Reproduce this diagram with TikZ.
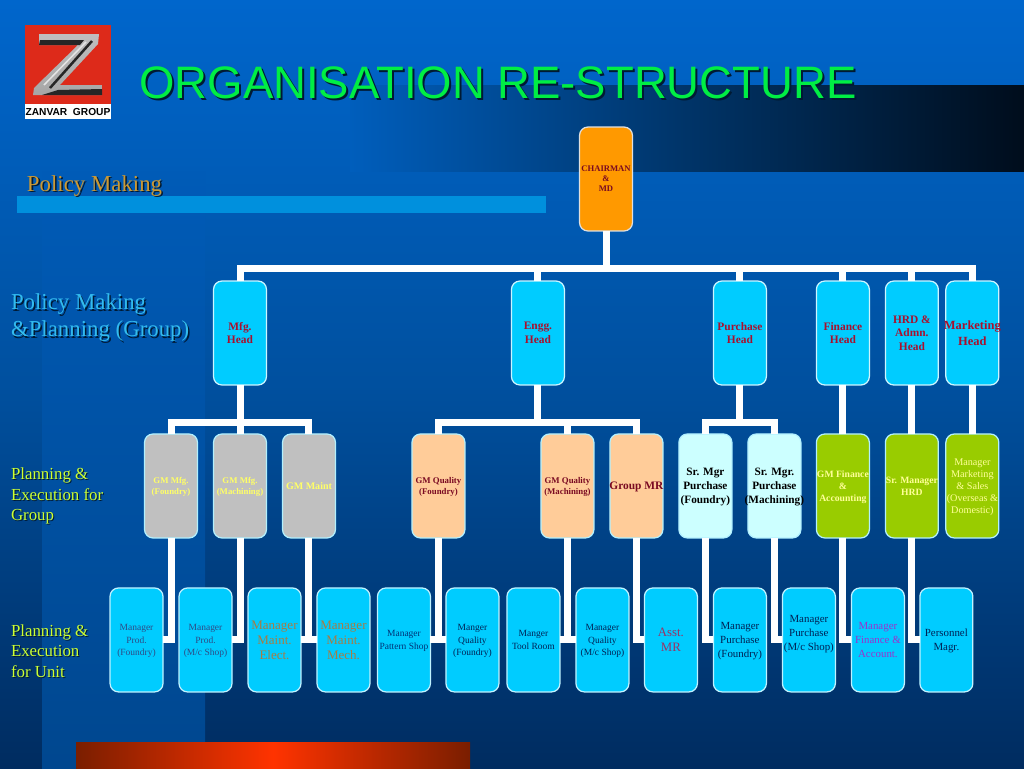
\documentclass[tikz,border=0pt]{standalone}
\usepackage{xcolor}
\usepackage{fontspec}
\setmainfont{Liberation Serif}
\newfontfamily\sansfont{Liberation Sans}
\usetikzlibrary{positioning, calc}
\definecolor{zv-sky}{HTML}{00CCFF}
\definecolor{zv-gray}{HTML}{C0C0C0}
\definecolor{zv-peach}{HTML}{FFCC99}
\definecolor{zv-pale}{HTML}{CCFFFF}
\definecolor{zv-olive}{HTML}{99CC00}
\definecolor{zv-orange}{HTML}{FF9900}
\definecolor{zv-wine}{HTML}{A8102E}
\definecolor{zv-maroon}{HTML}{7A0A22}
\definecolor{zv-lemon}{HTML}{FFFF66}
\definecolor{zv-cream}{HTML}{FFFF99}
\definecolor{zv-slate}{HTML}{2F4A85}
\definecolor{zv-brown}{HTML}{A67C45}
\definecolor{zv-navy}{HTML}{003377}
\definecolor{zv-ink}{HTML}{002255}
\definecolor{zv-plum}{HTML}{9A3366}
\definecolor{zv-violet}{HTML}{9933CC}
\definecolor{zv-title}{HTML}{00EE44}
\definecolor{zv-gold}{HTML}{CC9933}
\definecolor{zv-cyan}{HTML}{33BBEE}
\definecolor{zv-lime}{HTML}{CCFF33}
\definecolor{zv-shadow}{HTML}{001A33}
\definecolor{zv-bgtop}{HTML}{0066CC}
\definecolor{zv-bgmid}{HTML}{00509F}
\definecolor{zv-bgend}{HTML}{002C60}
\definecolor{zv-coltop}{HTML}{005BB7}
\definecolor{zv-colend}{HTML}{00478F}
\definecolor{zv-bandl}{HTML}{005EBC}
\definecolor{zv-bandm}{HTML}{003468}
\definecolor{zv-bandr}{HTML}{000D1C}
\definecolor{zv-bar}{HTML}{0090DD}
\definecolor{zv-rust}{HTML}{7A1E00}
\definecolor{zv-red}{HTML}{FF3300}
\definecolor{zv-logo}{HTML}{DD2A1A}
\definecolor{zv-steel}{HTML}{262626}

\begin{document}
\begin{tikzpicture}[
    x=0.02cm, y=-0.02cm,
    box/.style={draw=white!75!zv-sky, line width=0.025cm, rounded corners=0.17cm, minimum width=1.06cm, minimum height=2.08cm, inner xsep=-0.2cm, inner ysep=0pt, outer sep=0pt, align=center},
    chairbox/.style={box, draw=white!75!gray, fill=zv-orange, text=zv-maroon, text depth=0pt, font=\bfseries\fontsize{4.9}{5.7}\selectfont},
    headbox/.style={box, draw=white!80!zv-sky, fill=zv-sky, text=zv-wine, font=\bfseries\fontsize{6.5}{7.8}\selectfont},
    graybox/.style={box, draw=white!70!zv-sky, fill=zv-gray, text=zv-lemon, text depth=-1pt, font=\bfseries\fontsize{5}{6.2}\selectfont},
    peachbox/.style={box, draw=white!70!zv-sky, fill=zv-peach, text=zv-maroon, text depth=-1pt, font=\bfseries\fontsize{5}{6.2}\selectfont},
    palebox/.style={box, draw=white!70!zv-sky, fill=zv-pale, text=black, text depth=-1.5pt, font=\bfseries\fontsize{6.4}{7.8}\selectfont},
    olivebox/.style={box, draw=white!70!zv-sky, fill=zv-olive, text=zv-cream, text depth=-1pt, font=\bfseries\fontsize{5.5}{6.9}\selectfont},
    mgrbox/.style={box, fill=zv-sky, text=zv-slate, text depth=-1pt, font=\fontsize{5.4}{6.9}\selectfont},
    bigmgr/.style={mgrbox, text=zv-brown, font=\fontsize{7.4}{8.5}\selectfont},
    midmgr/.style={mgrbox, text=zv-ink, font=\fontsize{6.2}{7.8}\selectfont},
    link/.style={draw=white, line width=0.14cm},
    sidelabel/.style={inner sep=0pt, outer sep=0pt, align=left, anchor=west},
    bigside/.style={sidelabel, font=\fontsize{13}{15.4}\selectfont},
    smallside/.style={sidelabel, font=\fontsize{9.6}{11.7}\selectfont}
]
    \useasboundingbox (0,0) rectangle (1024,768);

    % backdrop
    \shade [top color=zv-bgtop, bottom color=zv-bgend, middle color=zv-bgmid] (0,0) rectangle (1024,768);
    \shade [top color=zv-coltop, bottom color=zv-colend] (42,171) rectangle (205,768);
    \shade [left color=zv-bandl, right color=zv-bandr, middle color=zv-bandm] (350,85) rectangle (1024,171);
    \fill [zv-bar] (17,196) rectangle (546,213);
    \shade [left color=zv-rust, right color=zv-rust, middle color=zv-red] (76,742) rectangle (470,768);

    % logo
    \fill [zv-logo] (25,25) rectangle (111,104);
    \fill [white] (25,104) rectangle (111,119);
    \shade [line join=round, top color=white!75!black, bottom color=white!65!black] (39,34) -- (99,34) -- (98,44) -- (60,85) -- (102,85) -- (102,95) -- (33,95) -- (34,88) -- (78,45) -- (39,45) -- cycle;
    \fill [zv-steel] (40,40) -- (84,40) -- (80,45) -- (39,45) -- cycle;
    \fill [zv-steel] (58,90) -- (102,89) -- (102,95) -- (42,95) -- cycle;
    \draw [zv-steel, line width=0.05cm] (92,41) -- (50,88);
    \draw [white!90!black, line width=0.03cm] (86,42) -- (44,85);
    \node (logotext) [inner sep=0pt, text=black, font=\sansfont\bfseries\fontsize{5.8}{6}\selectfont] at (68,112) {ZANVAR\ \ GROUP};

    % heading and side labels
    \node (title shadow) [anchor=base west, inner sep=0pt, text=zv-shadow, font=\sansfont\fontsize{25.9}{30}\selectfont] at (141,100) {ORGANISATION RE-STRUCTURE};
    \node (title) [anchor=base west, inner sep=0pt, text=zv-title, font=\sansfont\fontsize{25.9}{30}\selectfont] at (139,98) {ORGANISATION RE-STRUCTURE};

    \node (policy shadow) [bigside, text=zv-shadow] at (28.5,187.5) {Policy Making};
    \node (policy) [bigside, text=zv-gold] at (27,186) {Policy Making};
    \node (group shadow) [bigside, text=zv-shadow] at (12.5,319.5) {Policy Making\\\&Planning (Group)};
    \node (group) [bigside, text=zv-cyan] at (11,318) {Policy Making\\\&Planning (Group)};
    \node (execgroup shadow) [smallside, text=zv-shadow] at (12,497) {Planning \&\\Execution for\\Group};
    \node (execgroup) [smallside, text=zv-lime] at (11,496) {Planning \&\\Execution for\\Group};
    \node (execunit shadow) [smallside, text=zv-shadow] at (12,652) {Planning \&\\Execution\\for Unit};
    \node (execunit) [smallside, text=zv-lime] at (11,651) {Planning \&\\Execution\\for Unit};

    % top of the chart
    \node (chairman) [chairbox] at (606,179) {CHAIRMAN\\\&\\MD};

    \node (mfg) [headbox] at (240,333) {Mfg.\\Head};
    \node (engg) [headbox, right=4.9cm of mfg] {Engg.\\Head};
    \node (purchase) [headbox, right=2.98cm of engg] {Purchase\\Head};
    \node (finance) [headbox, right=1cm of purchase] {Finance\\Head};
    \node (hrd) [headbox, right=0.32cm of finance] {HRD \&\\Admn.\\Head};
    \node (marketing) [headbox, right=0.15cm of hrd, font=\bfseries\fontsize{7.1}{9.1}\selectfont] {Marketing\\Head};

    \node (gmmach) [graybox, below=0.98cm of mfg] {GM Mfg.\\(Machining)};
    \node (gmfoundry) [graybox, left=0.32cm of gmmach] {GM Mfg.\\(Foundry)};
    \node (gmmaint) [graybox, right=0.32cm of gmmach, font=\bfseries\fontsize{5.7}{6.9}\selectfont] {GM Maint};
    \node (gmqfoundry) [peachbox, right=1.53cm of gmmaint] {GM Quality\\(Foundry)};
    \node (gmqmach) [peachbox, right=1.52cm of gmqfoundry] {GM Quality\\(Machining)};
    \node (groupmr) [peachbox, right=0.32cm of gmqmach, font=\bfseries\fontsize{6.5}{7.8}\selectfont] {Group MR};
    \node (srfoundry) [palebox, right=0.32cm of groupmr] {Sr. Mgr\\Purchase\\(Foundry)};
    \node (srmach) [palebox, right=0.32cm of srfoundry] {Sr. Mgr.\\Purchase\\(Machining)};
    \node (gmfinance) [olivebox, below=0.98cm of finance] {GM Finance\\\&\\Accounting};
    \node (srhrd) [olivebox, below=0.98cm of hrd] {Sr. Manager\\HRD};
    \node (mgrmarketing) [olivebox, below=0.98cm of marketing, font=\fontsize{5.8}{6.9}\selectfont] {Manager\\Marketing\\\& Sales\\(Overseas \&\\Domestic)};

    \node (prodfoundry) [mgrbox, below=1cm of gmfoundry, xshift=-0.69cm] {Manager\\Prod.\\(Foundry)};
    \node (prodshop) [mgrbox, right=0.32cm of prodfoundry] {Manager\\Prod.\\(M/c Shop)};
    \node (maintelect) [bigmgr, right=0.32cm of prodshop] {Manager\\Maint.\\Elect.};
    \node (maintmech) [bigmgr, right=0.32cm of maintelect] {Manager\\Maint.\\Mech.};
    \node (pattern) [mgrbox, right=0.15cm of maintmech, text=zv-navy] {Manager\\Pattern Shop};
    \node (qfoundry) [mgrbox, right=0.31cm of pattern, text=zv-ink] {Manger\\Quality\\(Foundry)};
    \node (toolroom) [mgrbox, right=0.16cm of qfoundry, text=zv-ink] {Manger\\Tool Room};
    \node (qshop) [mgrbox, right=0.32cm of toolroom, text=zv-ink] {Manager\\Quality\\(M/c Shop)};
    \node (asstmr) [mgrbox, right=0.31cm of qshop, text=zv-plum, font=\fontsize{7.3}{8.5}\selectfont] {Asst.\\MR};
    \node (pfoundry) [midmgr, right=0.32cm of asstmr] {Manager\\Purchase\\(Foundry)};
    \node (pshop) [midmgr, right=0.32cm of pfoundry] {Manager\\Purchase\\(M/c Shop)\\\mbox{}};
    \node (mfinance) [midmgr, right=0.32cm of pshop, text=zv-violet] {Manager\\Finance \&\\Account.};
    \node (personnel) [midmgr, right=0.31cm of mfinance] {Personnel\\Magr.};

    % connectors
    \coordinate (bus) at (606,268);
    \coordinate (mfgbus) at (240,422);
    \draw [link] (chairman.south) -- (bus);
    \draw [link] (mfg.north) |- (bus -| marketing) -- (marketing.north);
    \draw [link] (engg.north) -- (bus -| engg);
    \draw [link] (purchase.north) -- (bus -| purchase);
    \draw [link] (finance.north) -- (bus -| finance);
    \draw [link] (hrd.north) -- (bus -| hrd);

    \draw [link] (mfg.south) -- (mfgbus);
    \draw [link] (gmfoundry.north) |- (mfgbus -| gmmaint) -- (gmmaint.north);
    \draw [link] (gmmach.north) -- (mfgbus -| gmmach);
    \draw [link] (engg.south) -- (mfgbus -| engg);
    \draw [link] (gmqfoundry.north) |- (mfgbus -| groupmr) -- (groupmr.north);
    \draw [link] (gmqmach.north) -- (mfgbus -| gmqmach);
    \draw [link] (purchase.south) -- (mfgbus -| purchase);
    \draw [link] (srfoundry.north) |- (mfgbus -| srmach) -- (srmach.north);
    \draw [link] (finance.south) -- (gmfinance.north);
    \draw [link] (hrd.south) -- (srhrd.north);
    \draw [link] (marketing.south) -- (mgrmarketing.north);

    \draw [link] (gmfoundry.south) |- (prodfoundry.east);
    \draw [link] (gmmach.south) |- (prodshop.east);
    \draw [link] (gmmaint.south) |- (maintelect.east);
    \draw [link] (gmmaint.south) |- (maintmech.west);
    \draw [link] (gmqfoundry.south) |- (pattern.east);
    \draw [link] (gmqfoundry.south) |- (qfoundry.west);
    \draw [link] (gmqmach.south) |- (toolroom.east);
    \draw [link] (gmqmach.south) |- (qshop.west);
    \draw [link] (groupmr.south) |- (asstmr.west);
    \draw [link] (srfoundry.south) |- (pfoundry.west);
    \draw [link] (srmach.south) |- (pshop.west);
    \draw [link] (gmfinance.south) |- (mfinance.west);
    \draw [link] (srhrd.south) |- (personnel.west);
\end{tikzpicture}
\end{document}
